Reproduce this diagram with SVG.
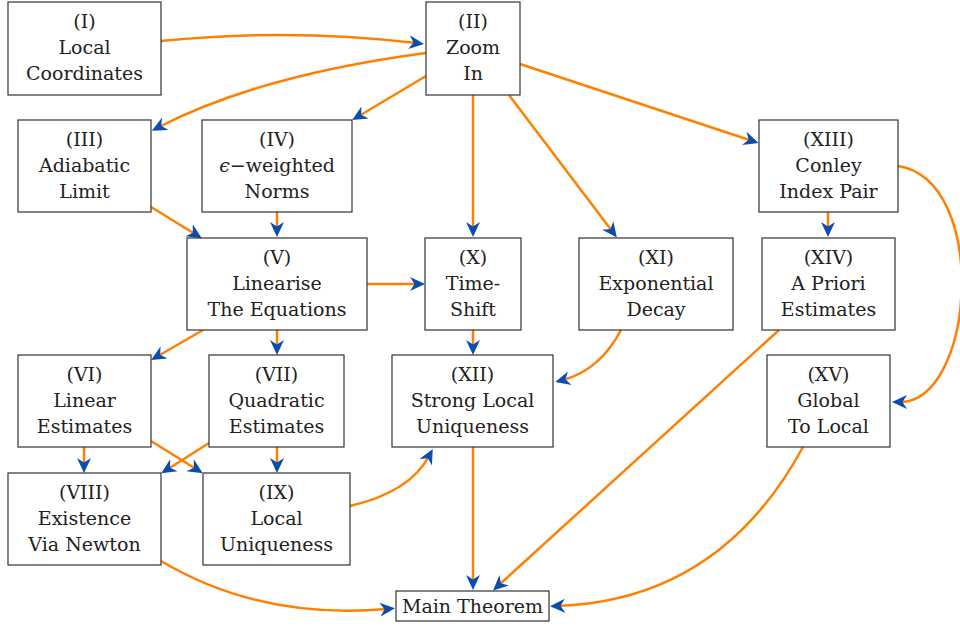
<svg xmlns="http://www.w3.org/2000/svg" width="960" height="628" viewBox="0 0 960 628">
<style>
.box{fill:#fff;stroke:#333;stroke-width:1.2}
text{font-family:"DejaVu Serif","Liberation Serif","Noto Serif",serif;font-size:19px;fill:#222;text-anchor:middle}
.e{fill:none;stroke:#FF8000;stroke-width:2.5;marker-end:url(#ah)}
</style>
<defs>
<marker id="ah" viewBox="-7 -8 16 16" refX="0" refY="0" markerWidth="16" markerHeight="16" markerUnits="userSpaceOnUse" orient="auto">
<path d="M8,0 L-7,-7 L-2.5,0 L-7,7 Z" fill="#0A4DB0"/>
</marker>
</defs>
<rect width="960" height="628" fill="#fff"/>
<g id="connectors">
<path class="e" d="M161,41 Q 290,28 416,43"/>
<path class="e" d="M426,53 Q 260,75 159,127"/>
<path class="e" d="M426,76 L359,116"/>
<path class="e" d="M473,95 L473,229"/>
<path class="e" d="M509,95 L612,231"/>
<path class="e" d="M520,64 L751,140.5"/>
<path class="e" d="M151,207 L195,234"/>
<path class="e" d="M277,212 L277,229"/>
<path class="e" d="M367,284 L417,284"/>
<path class="e" d="M203,330 L158,356"/>
<path class="e" d="M277,330 L277,347"/>
<path class="e" d="M473,330 L473,347"/>
<path class="e" d="M621,330 Q 600,370 563,380"/>
<path class="e" d="M828,212 L828,229"/>
<path class="e" d="M898,166 C 990,180 975,402 900,402"/>
<path class="e" d="M779,330 L499,585"/>
<path class="e" d="M84,447 L84,465"/>
<path class="e" d="M151,441 L196,469"/>
<path class="e" d="M209,443 L168,469"/>
<path class="e" d="M277,447 L277,465"/>
<path class="e" d="M350,506 Q 410,492 429,456"/>
<path class="e" d="M473,447 L473,582"/>
<path class="e" d="M161,561 Q 260,620 387,609"/>
<path class="e" d="M803,447 Q 720,600 558,606"/>
</g>
<g id="n1"><rect class="box" x="8" y="2" width="153" height="93"/><text x="84.5" y="28">(I)</text><text x="84.5" y="54">Local</text><text x="84.5" y="80">Coordinates</text></g>
<g id="n2"><rect class="box" x="426" y="2" width="94" height="93"/><text x="473" y="28">(II)</text><text x="473" y="54">Zoom</text><text x="473" y="80">In</text></g>
<g id="n3"><rect class="box" x="18" y="120" width="133" height="92"/><text x="84.5" y="146">(III)</text><text x="84.5" y="172">Adiabatic</text><text x="84.5" y="198">Limit</text></g>
<g id="n4"><rect class="box" x="202" y="120" width="150" height="92"/><text x="277" y="146">(IV)</text><text x="277" y="172"><tspan font-style="italic">ϵ</tspan>−weighted</text><text x="277" y="198">Norms</text></g>
<g id="n5"><rect class="box" x="187" y="238" width="180" height="92"/><text x="277" y="264">(V)</text><text x="277" y="290">Linearise</text><text x="277" y="316">The Equations</text></g>
<g id="n10"><rect class="box" x="425" y="238" width="96" height="92"/><text x="473" y="264">(X)</text><text x="473" y="290">Time-</text><text x="473" y="316">Shift</text></g>
<g id="n11"><rect class="box" x="579" y="238" width="154" height="92"/><text x="656" y="264">(XI)</text><text x="656" y="290">Exponential</text><text x="656" y="316">Decay</text></g>
<g id="n13"><rect class="box" x="759" y="120" width="139" height="92"/><text x="828.5" y="146">(XIII)</text><text x="828.5" y="172">Conley</text><text x="828.5" y="198">Index Pair</text></g>
<g id="n14"><rect class="box" x="762" y="238" width="133" height="92"/><text x="828.5" y="264">(XIV)</text><text x="828.5" y="290">A Priori</text><text x="828.5" y="316">Estimates</text></g>
<g id="n6"><rect class="box" x="18" y="355" width="133" height="92"/><text x="84.5" y="381">(VI)</text><text x="84.5" y="407">Linear</text><text x="84.5" y="433">Estimates</text></g>
<g id="n7"><rect class="box" x="209" y="355" width="135" height="92"/><text x="276.5" y="381">(VII)</text><text x="276.5" y="407">Quadratic</text><text x="276.5" y="433">Estimates</text></g>
<g id="n12"><rect class="box" x="392" y="355" width="161" height="92"/><text x="472.5" y="381">(XII)</text><text x="472.5" y="407">Strong Local</text><text x="472.5" y="433">Uniqueness</text></g>
<g id="n15"><rect class="box" x="767" y="355" width="123" height="92"/><text x="828.5" y="381">(XV)</text><text x="828.5" y="407">Global</text><text x="828.5" y="433">To Local</text></g>
<g id="n8"><rect class="box" x="8" y="473" width="153" height="92"/><text x="84.5" y="499">(VIII)</text><text x="84.5" y="525">Existence</text><text x="84.5" y="551">Via Newton</text></g>
<g id="n9"><rect class="box" x="203" y="473" width="147" height="92"/><text x="276.5" y="499">(IX)</text><text x="276.5" y="525">Local</text><text x="276.5" y="551">Uniqueness</text></g>
<g id="main"><rect class="box" x="396" y="591" width="153" height="30"/><text x="472.5" y="613">Main Theorem</text></g>
</svg>
